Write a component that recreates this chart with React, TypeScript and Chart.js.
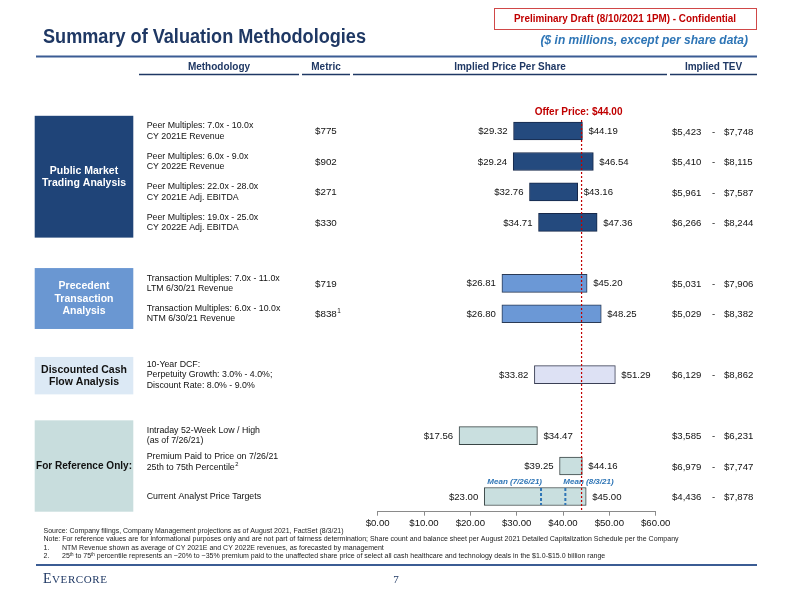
import { useEffect, useRef } from 'react';
import { Chart, registerables } from 'chart.js';

Chart.register(...registerables);

// ---------- data ----------
const rowKeys = ['pm1', 'pm2', 'pm3', 'pm4', 'gapA', 'pt1', 'pt2', 'gapB', 'dcf', 'gapC', 'ref1', 'ref2', 'ref3'];
const lowValues: (number | null)[] = [29.32, 29.24, 32.76, 34.71, null, 26.81, 26.8, null, 33.82, null, 17.56, 39.25, 23.0];
const highValues: (number | null)[] = [44.19, 46.54, 43.16, 47.36, null, 45.2, 48.25, null, 51.29, null, 34.47, 44.16, 45.0];
const methodologyText: string[][] = [
  ['Peer Multiples: 7.0x - 10.0x', 'CY 2021E Revenue'],
  ['Peer Multiples: 6.0x - 9.0x', 'CY 2022E Revenue'],
  ['Peer Multiples: 22.0x - 28.0x', 'CY 2021E Adj. EBITDA'],
  ['Peer Multiples: 19.0x - 25.0x', 'CY 2022E Adj. EBITDA'],
  [],
  ['Transaction Multiples: 7.0x - 11.0x', 'LTM 6/30/21 Revenue'],
  ['Transaction Multiples: 6.0x - 10.0x', 'NTM 6/30/21 Revenue'],
  [],
  ['10-Year DCF:', 'Perpetuity Growth: 3.0% - 4.0%;', 'Discount Rate: 8.0% - 9.0%'],
  [],
  ['Intraday 52-Week Low / High', '(as of 7/26/21)'],
  ['Premium Paid to Price on 7/26/21', '25th to 75th Percentile'],
  ['Current Analyst Price Targets'],
];
const methodologySup = ['', '', '', '', '', '', '', '', '', '', '', '2', ''];
const metricValues = ['$775', '$902', '$271', '$330', '', '$719', '$838', '', '', '', '', '', ''];
const metricSup = ['', '', '', '', '', '', '1', '', '', '', '', '', ''];
const tevLow = ['$5,423', '$5,410', '$5,961', '$6,266', '', '$5,031', '$5,029', '', '$6,129', '', '$3,585', '$6,979', '$4,436'];
const tevHigh = ['$7,748', '$8,115', '$7,587', '$8,244', '', '$7,906', '$8,382', '', '$8,862', '', '$6,231', '$7,747', '$7,878'];
const rowGroup = ['pm', 'pm', 'pm', 'pm', '', 'pt', 'pt', '', 'dcf', '', 'ref', 'ref', 'ref'];
const groupLabels: Record<string, string[]> = {
  pm: ['Public Market', 'Trading Analysis'],
  pt: ['Precedent', 'Transaction', 'Analysis'],
  dcf: ['Discounted Cash', 'Flow Analysis'],
  ref: ['For Reference Only:'],
};
const offerPrice = 44.0;
const offerLabel = 'Offer Price: $44.00';
const analystMeanValues = [35.25, 40.5];
const analystMeanLabels = ['Mean (7/26/21)', 'Mean (8/3/21)'];
const analystRowIndex = 12;
const axisMin = 0;
const axisMax = 60;
const axisStep = 10;
const columnHeaders = ['Methodology', 'Metric', 'Implied Price Per Share', 'Implied TEV'];
const titleText = 'Summary of Valuation Methodologies';
const subtitleText = '($ in millions, except per share data)';
const draftText = 'Preliminary Draft (8/10/2021 1PM) - Confidential';
const sourceText = 'Source: Company filings, Company Management projections as of August 2021, FactSet (8/3/21)';
const noteText =
  'Note: For reference values are for informational purposes only and are not part of fairness determination; Share count and balance sheet per August 2021 Detailed Capitalization Schedule per the Company';
const footnote1 = 'NTM Revenue shown as average of CY 2021E and CY 2022E revenues, as forecasted by management';
const footnote2Tail =
  ' percentile represents an ~20% to ~35% premium paid to the unaffected share price of select all cash healthcare and technology deals in the $1.0-$15.0 billion range';
const pageNumber = '7';

// ---------- styles ----------
const SANS = '"Liberation Sans", Arial, Helvetica, sans-serif';
const SERIF = '"Liberation Serif", "Times New Roman", serif';
const NAVY = '#1F3864';
const groupStyle: Record<string, { box: string; fill: string; border: string; text: string }> = {
  pm: { box: '#1F4478', fill: '#244A7E', border: '#16284A', text: '#FFFFFF' },
  pt: { box: '#6A97D2', fill: '#6B98D6', border: '#2A3A55', text: '#FFFFFF' },
  dcf: { box: '#DCE9F5', fill: '#DDE1F4', border: '#3A3F55', text: '#111111' },
  ref: { box: '#C8DDDD', fill: '#C9DFDF', border: '#394545', text: '#111111' },
};

function txt(
  ctx: CanvasRenderingContext2D,
  s: string,
  x: number,
  y: number,
  font: string,
  color: string,
  align: CanvasTextAlign = 'left',
  maxW?: number
) {
  ctx.font = font;
  ctx.fillStyle = color;
  ctx.textAlign = align;
  ctx.textBaseline = 'middle';
  if (maxW && ctx.measureText(s).width > maxW) ctx.fillText(s, x, y, maxW);
  else ctx.fillText(s, x, y);
}

function txtSup(
  ctx: CanvasRenderingContext2D,
  s: string,
  sup: string,
  x: number,
  y: number,
  size: number,
  color: string
) {
  txt(ctx, s, x, y, `${size}px ${SANS}`, color, 'left');
  if (sup) {
    const w = ctx.measureText(s).width;
    txt(ctx, sup, x + w + 0.5, y - 3.2, `${size * 0.65}px ${SANS}`, color, 'left');
  }
}

const overlay = {
  id: 'overlay',
  beforeDraw(chart: any) {
    const ctx: CanvasRenderingContext2D = chart.ctx;
    const ys = chart.scales.y;
    ctx.save();
    ctx.fillStyle = '#FFFFFF';
    ctx.fillRect(0, 0, chart.width, chart.height);

    // draft box
    ctx.fillStyle = '#FFFFFF';
    ctx.fillRect(494, 8, 262, 21);
    ctx.strokeStyle = '#D04848';
    ctx.lineWidth = 1;
    ctx.strokeRect(494.5, 8.5, 262, 21);
    txt(ctx, draftText, 625, 19, `bold 11px ${SANS}`, '#C00000', 'center', 222);

    // title
    txt(ctx, titleText, 43, 38, `bold 19.5px ${SANS}`, NAVY, 'left', 323);
    txt(ctx, subtitleText, 748, 41, `italic bold 12px ${SANS}`, '#2E75B6', 'right', 208);
    ctx.strokeStyle = '#3B5C94';
    ctx.lineWidth = 2;
    ctx.beginPath();
    ctx.moveTo(36, 56.5);
    ctx.lineTo(757, 56.5);
    ctx.stroke();

    // column headers
    const segs = [
      [139, 299],
      [302, 350],
      [353, 667],
      [670, 757],
    ];
    ctx.lineWidth = 1.5;
    ctx.strokeStyle = NAVY;
    segs.forEach((s, i) => {
      txt(ctx, columnHeaders[i], (s[0] + s[1]) / 2, 67, `bold 10px ${SANS}`, NAVY, 'center', s[1] - s[0]);
      ctx.beginPath();
      ctx.moveTo(s[0], 74.5);
      ctx.lineTo(s[1], 74.5);
      ctx.stroke();
    });

    // left group boxes
    const slot = Math.abs(ys.getPixelForValue(1) - ys.getPixelForValue(0));
    const groups = ['pm', 'pt', 'dcf', 'ref'];
    groups.forEach((g) => {
      const idx = rowGroup.map((r, i) => (r === g ? i : -1)).filter((i) => i >= 0);
      let top = ys.getPixelForValue(idx[0]) - slot / 2;
      let bot = ys.getPixelForValue(idx[idx.length - 1]) + slot / 2;
      if (g === 'dcf') {
        top -= 2.5;
        bot += 4.5;
      }
      const st = groupStyle[g];
      ctx.fillStyle = st.box;
      ctx.fillRect(34.7, top, 98.6, bot - top);
      const lines = groupLabels[g];
      const cy = (top + bot) / 2;
      const lh = 12.5;
      lines.forEach((l, k) => {
        txt(ctx, l, 84, cy + (k - (lines.length - 1) / 2) * lh + 0.5, `bold 10.5px ${SANS}`, st.text, 'center', 96);
      });
    });

    // methodology / metric / TEV text
    for (let i = 0; i < rowKeys.length; i++) {
      const cy = ys.getPixelForValue(i);
      const lines = methodologyText[i];
      const shift = i === 11 ? -4 : 0;
      const lh = lines.length > 2 ? 10.5 : 10.3;
      lines.forEach((l, k) => {
        const ly = cy + shift + (k - (lines.length - 1) / 2) * lh;
        const sup = k === lines.length - 1 ? methodologySup[i] : '';
        txtSup(ctx, l, sup, 146.7, ly, 8.8, '#111111');
      });
      if (metricValues[i]) txtSup(ctx, metricValues[i], metricSup[i], 315, cy + 0.5, 9.8, '#111111');
      if (tevLow[i]) {
        txt(ctx, tevLow[i], 672, cy + 1, `9.6px ${SANS}`, '#111111', 'left');
        txt(ctx, '-', 713.5, cy + 1, `9.6px ${SANS}`, '#111111', 'center');
        txt(ctx, tevHigh[i], 724, cy + 1, `9.6px ${SANS}`, '#111111', 'left');
      }
    }

    // footer
    const fs = `7px ${SANS}`;
    const fc = '#1A1A1A';
    txt(ctx, sourceText, 43.5, 531, fs, fc, 'left', 300);
    txt(ctx, noteText, 43.5, 539.5, fs, fc, 'left', 708);
    txt(ctx, '1.', 43.5, 548, fs, fc, 'left');
    txt(ctx, footnote1, 62, 548, fs, fc, 'left', 330);
    txt(ctx, '2.', 43.5, 556.5, fs, fc, 'left');
    let fx = 62;
    const parts: [string, boolean][] = [
      ['25', false],
      ['th', true],
      [' to 75', false],
      ['th', true],
      [footnote2Tail, false],
    ];
    parts.forEach(([s, sup]) => {
      ctx.font = sup ? `4.5px ${SANS}` : fs;
      const w = ctx.measureText(s).width;
      txt(ctx, s, fx, sup ? 554.5 : 556.5, sup ? `4.5px ${SANS}` : fs, fc, 'left');
      fx += w;
    });
    ctx.strokeStyle = '#3B5C94';
    ctx.lineWidth = 2;
    ctx.beginPath();
    ctx.moveTo(36, 565);
    ctx.lineTo(757, 565);
    ctx.stroke();
    // EVERCORE small caps
    txt(ctx, 'E', 43, 579, `14px ${SERIF}`, NAVY, 'left');
    ctx.font = `14px ${SERIF}`;
    const ew = ctx.measureText('E').width;
    ctx.save();
    (ctx as any).letterSpacing = '0.6px';
    txt(ctx, 'VERCORE', 43 + ew + 0.5, 579.8, `11px ${SERIF}`, NAVY, 'left');
    ctx.restore();
    txt(ctx, pageNumber, 396, 580, `11px ${SERIF}`, NAVY, 'center');
    ctx.restore();
  },
  afterDatasetsDraw(chart: any) {
    const ctx: CanvasRenderingContext2D = chart.ctx;
    const xs = chart.scales.x;
    const ys = chart.scales.y;
    const area = chart.chartArea;
    ctx.save();
    for (let i = 0; i < rowKeys.length; i++) {
      const lo = lowValues[i];
      const hi = highValues[i];
      if (lo == null || hi == null) continue;
      const cy = ys.getPixelForValue(i) + 0.5;
      txt(ctx, '$' + lo.toFixed(2), xs.getPixelForValue(lo) - 6, cy, `9.6px ${SANS}`, '#111111', 'right');
      txt(ctx, '$' + hi.toFixed(2), xs.getPixelForValue(hi) + 6, cy, `9.6px ${SANS}`, '#111111', 'left');
    }
    const ay = ys.getPixelForValue(analystRowIndex);
    ctx.strokeStyle = '#2E75B6';
    ctx.lineWidth = 2;
    ctx.setLineDash([3, 2]);
    analystMeanValues.forEach((v, k) => {
      const x = xs.getPixelForValue(v);
      ctx.beginPath();
      ctx.moveTo(x, ay - 8.5);
      ctx.lineTo(x, ay + 8.5);
      ctx.stroke();
      txt(
        ctx,
        analystMeanLabels[k],
        k === 0 ? x + 1 : x - 2,
        ay - 15,
        `italic bold 8px ${SANS}`,
        '#2E75B6',
        k === 0 ? 'right' : 'left'
      );
    });
    const ox = xs.getPixelForValue(offerPrice);
    ctx.strokeStyle = '#C00000';
    ctx.lineWidth = 1.2;
    ctx.setLineDash([2, 2]);
    ctx.beginPath();
    ctx.moveTo(ox, 120);
    ctx.lineTo(ox, area.bottom);
    ctx.stroke();
    ctx.setLineDash([]);
    txt(ctx, offerLabel, ox - 3, 112, `bold 10px ${SANS}`, '#C00000', 'center');
    ctx.restore();
  },
};

export default function App() {
  const ref = useRef<HTMLCanvasElement | null>(null);
  useEffect(() => {
    if (!ref.current) return;
    const data = lowValues.map((l, i) => (l == null || highValues[i] == null ? null : [l, highValues[i] as number]));
    const fills = rowGroup.map((g) => (g ? groupStyle[g].fill : 'transparent'));
    const borders = rowGroup.map((g) => (g ? groupStyle[g].border : 'transparent'));
    const chart = new Chart(ref.current, {
      type: 'bar',
      data: {
        labels: rowKeys,
        datasets: [
          {
            data: data as any,
            backgroundColor: fills,
            borderColor: borders,
            borderWidth: 1,
            borderSkipped: false,
            barThickness: 18,
          },
        ],
      },
      options: {
        responsive: false,
        animation: false,
        indexAxis: 'y',
        layout: { padding: { left: 377.7, right: 136.3, top: 115.8, bottom: 70.3 } },
        plugins: { legend: { display: false }, tooltip: { enabled: false }, title: { display: false } },
        scales: {
          x: {
            type: 'linear',
            position: 'bottom',
            min: axisMin,
            max: axisMax,
            ticks: {
              stepSize: axisStep,
              autoSkip: false,
              maxRotation: 0,
              padding: 2,
              color: '#111111',
              font: { family: SANS, size: 9.6 },
              callback: (v: any) => '$' + Number(v).toFixed(2),
            },
            grid: { drawOnChartArea: false, drawTicks: true, tickLength: 4, color: '#8A8A8A' },
            border: { display: true, color: '#8A8A8A', width: 1 },
            afterFit: (s: any) => {
              s.height = 30;
            },
          },
          y: { type: 'category', display: false, offset: true, grid: { display: false } },
        },
      },
      plugins: [overlay],
    });
    return () => chart.destroy();
  }, []);
  return (
    <div style={{ position: 'absolute', left: 0, top: 0, width: 792, height: 612, background: '#fff' }}>
      <canvas ref={ref} width={792} height={612} style={{ width: 792, height: 612, display: 'block' }} />
    </div>
  );
}
